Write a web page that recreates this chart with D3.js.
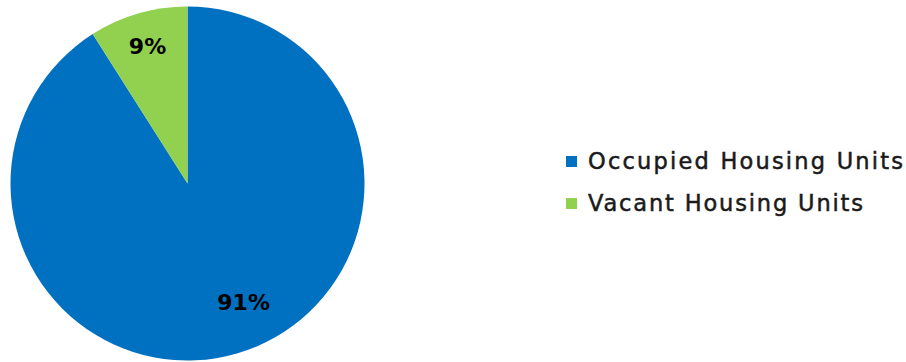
<!DOCTYPE html>
<html>
<head>
<meta charset="utf-8">
<script src="https://cdn.jsdelivr.net/npm/d3@7"></script>
<style>
  html, body { margin: 0; padding: 0; background: #ffffff; }
  svg { display: block; }
</style>
</head>
<body>
<svg id="chart" width="906" height="362"></svg>
<script>
// Housing unit occupancy shares (percent)
const categories = ["Occupied Housing Units", "Vacant Housing Units"];
const values = [91, 9];
const labels = ["91%", "9%"];
const colors = ["#0070C0", "#92D050"];

const width = 906, height = 362;
const cx = 187.5, cy = 183.5, radius = 177;

const svg = d3.select("#chart");

const pie = d3.pie().sort(null).value(d => d.value);
const data = categories.map((c, i) => ({ name: c, value: values[i], label: labels[i], color: colors[i] }));
const arcs = pie(data);

const arc = d3.arc().innerRadius(0).outerRadius(radius);

const g = svg.append("g").attr("transform", `translate(${cx},${cy})`);

g.selectAll("path.slice")
  .data(arcs)
  .join("path")
  .attr("class", "slice")
  .attr("d", arc)
  .attr("fill", d => d.data.color);

// Data labels: radius fraction and angular nudge per slice (best-fit placement)
const labelRadius = [0.74, 0.81];
const labelShift = [-0.16, 0];
g.selectAll("text.pct")
  .data(arcs)
  .join("text")
  .attr("class", "pct")
  .attr("transform", (d, i) => {
    const a = (d.startAngle + d.endAngle) / 2 + labelShift[i];
    const r = radius * labelRadius[i];
    return `translate(${r * Math.sin(a)},${-r * Math.cos(a)})`;
  })
  .attr("text-anchor", "middle")
  .attr("dy", "0.36em")
  .attr("font-family", "'DejaVu Sans', sans-serif")
  .attr("font-weight", "bold")
  .attr("font-size", 22)
  .attr("fill", "#000")
  .text(d => d.data.label);

// Legend
const legend = svg.append("g").attr("transform", "translate(566,161)");
const rows = legend.selectAll("g.row")
  .data(data)
  .join("g")
  .attr("class", "row")
  .attr("transform", (d, i) => `translate(0,${i * 42})`);

rows.append("rect")
  .attr("x", 0).attr("y", -5)
  .attr("width", 11).attr("height", 11)
  .attr("fill", d => d.color);

rows.append("text")
  .attr("x", 22)
  .attr("y", 0)
  .attr("dy", "0.36em")
  .attr("font-family", "'DejaVu Sans', sans-serif")
  .attr("font-size", 22.5)
  .attr("fill", "#1a1a1a")
  .attr("stroke", "#1a1a1a")
  .attr("stroke-width", 0.5)
  .attr("textLength", (d, i) => i === 0 ? 315 : 275)
  .attr("lengthAdjust", "spacing")
  .text(d => d.name);
</script>
</body>
</html>
